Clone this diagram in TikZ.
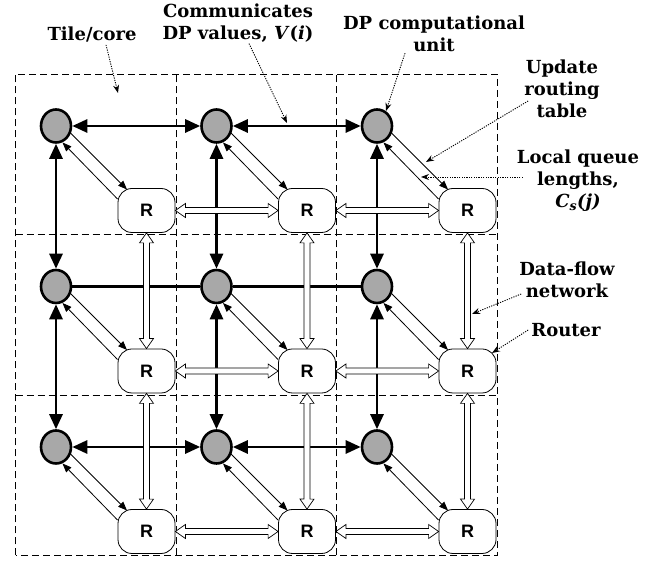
\documentclass[tikz,border=0pt]{standalone}
\usepackage{fontspec}
\setmainfont{DejaVu Serif}
\newfontfamily\rfont{Liberation Sans}
\usetikzlibrary{arrows.meta,calc,shapes.geometric}
\definecolor{dpgray}{RGB}{168,168,168}
\begin{document}
\begin{tikzpicture}[x=1pt,y=1pt,
  tile/.style={line width=0.9pt, dash pattern=on 7pt off 4pt},
  dp/.style={ellipse, draw, line width=2.6pt, fill=dpgray, minimum width=30pt, minimum height=33pt, inner sep=0pt},
  rt/.style={rectangle, rounded corners=14pt, draw, line width=0.8pt, fill=white, minimum width=57pt, minimum height=44pt, inner sep=0pt, font=\rfont\bfseries\fontsize{18}{18}\selectfont},
  big/.style={line width=2.8pt, {Triangle[length=15pt,width=13pt]}-{Triangle[length=15pt,width=13pt]}},
  plainbig/.style={line width=2.8pt},
  thinarr/.style={line width=0.8pt, -{Triangle[length=9pt,width=7pt]}},
  hollow/.style={draw, fill=white, line width=0.7pt, to path={let \p1=($(\tikztotarget)-(\tikztostart)$), \n1={atan2(\y1,\x1)}, \n2={veclen(\x1,\y1)} in
     -- ++({\n1+34.99}:12.21) -- ++({\n1-90}:4) -- ++(\n1:{\n2-20}) -- ++({\n1+90}:4) -- (\tikztotarget)
     -- ++({\n1+214.99}:12.21) -- ++({\n1+90}:4) -- ++({\n1+180}:{\n2-20}) -- ++({\n1-90}:4) -- cycle}},
  ptr/.style={line width=0.9pt, dash pattern=on 1.2pt off 1.2pt, -{Stealth[length=8pt,width=6pt]}},
  lbl/.style={font=\bfseries\fontsize{18}{22}\selectfont, align=center, inner sep=0pt}
]
\useasboundingbox (0,0) rectangle (663,561);
% tiles
\draw[tile] (15.5,5.5) rectangle (497,487);
\draw[tile] (176,5.5) -- (176,487);
\draw[tile] (336.5,5.5) -- (336.5,487);
\draw[tile] (15.5,326.5) -- (497,326.5);
\draw[tile] (15.5,166) -- (497,166);
% nodes
\foreach \r in {1,2,3}{\foreach \c in {1,2,3}{
  \node[dp] (C\r\c) at ({56+160.5*(\c-1)},{435-160.5*(\r-1)}) {};
  \node[rt] (R\r\c) at ({146.5+160.5*(\c-1)},{350.5-160.5*(\r-1)}) {R};
}}
% DP links
\foreach \r in {1,3}{
  \draw[big] (C\r1) -- (C\r2);
  \draw[big] (C\r2) -- (C\r3);
}
\draw[plainbig] (C21) -- (C22) -- (C23);
\foreach \c in {1,2,3}{
  \draw[big] (C1\c) -- (C2\c);
  \draw[big] (C2\c) -- (C3\c);
}
% unit <-> router
\foreach \r in {1,2,3}{\foreach \c in {1,2,3}{
  \draw[thinarr] ($(C\r\c)+(14,-6.5)$) -- ($(R\r\c)+(-19.5,21)$);
  \draw[thinarr] ($(R\r\c)+(-29,11.5)$) -- ($(C\r\c)+(6.5,-16.5)$);
}}
% data-flow network
\foreach \r in {1,2,3}{
  \draw[hollow] (R\r1.east) to (R\r2.west);
  \draw[hollow] (R\r2.east) to (R\r3.west);
}
\foreach \c in {1,2,3}{
  \draw[hollow] (R1\c.south) to (R2\c.north);
  \draw[hollow] (R2\c.south) to (R3\c.north);
}
% labels
\node[lbl] (Ltile) at (92,526) {Tile/core};
\node[lbl] (Lcomm) at (238,538) {Communicates\\DP values, \textit{V}(\textit{i})};
\node[lbl] (Lunit) at (434,527) {DP computational\\unit};
\node[lbl] (Lupd) at (562,472) {Update\\routing\\table};
\node[lbl] (Lloc) at (578,380) {Local queue\\lengths,\\\textit{C\textsubscript{s}(j)}};
\node[lbl] (Ldf) at (567,281) {Data-flow\\network};
\node[lbl] (Lrt) at (566,231) {Router};
\coordinate (tTile) at (118,468);
\coordinate (tComm) at (287,438);
\coordinate (tUnit) at (386,450);
\coordinate (tUpd) at (426,399);
\coordinate (tLoc) at (421,384);
\coordinate (tDf) at (472,247);
\coordinate (tRt) at (492,208);
\draw[ptr] ($(Ltile.south)+(14,-2)$) -- (tTile);
\draw[ptr] ($(Lcomm.south)+(11,-1)$) -- (tComm);
\draw[ptr] ($(Lunit.south)+(-29,-1)$) -- (tUnit);
\draw[ptr] ($(Lupd.west)+(4,-12)$) -- (tUpd);
\draw[ptr] ($(Lloc.west)+(6,4)$) -- (tLoc);
\draw[ptr] ($(Ldf.west)+(2,-14)$) -- (tDf);
\draw[ptr] ($(Lrt.west)+(-3,0)$) -- (tRt);
\end{tikzpicture}
\end{document}
